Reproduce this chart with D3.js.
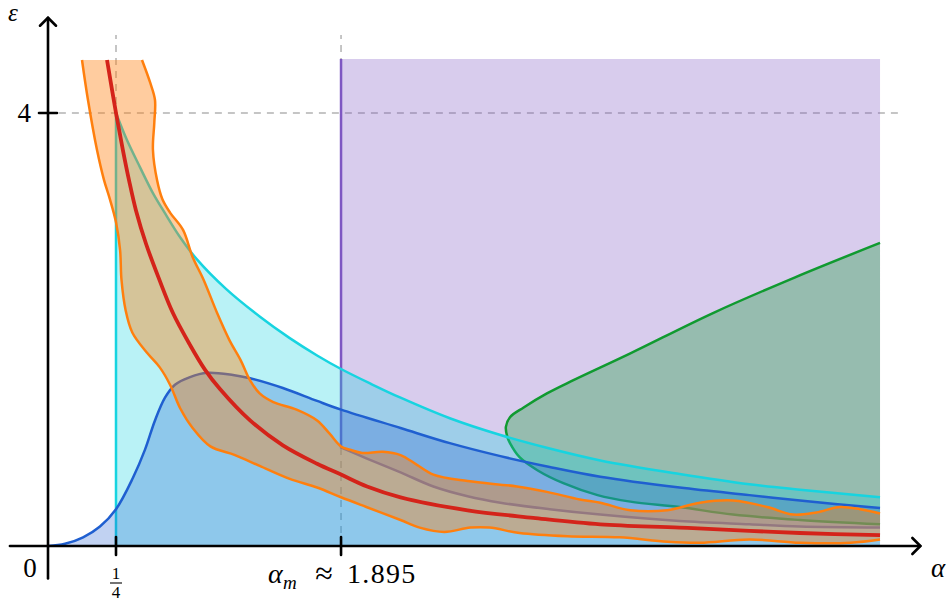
<!DOCTYPE html>
<html>
  <head>
    <meta charset="utf-8">
    <title>Phase regions in alpha / epsilon</title>
    <script src="https://cdn.jsdelivr.net/npm/d3@7"></script>
    <style>
      body { margin: 0; background: #fff; }
    </style>
  </head>

  <body>
    <svg id="chart" width="947" height="601"></svg>

    <script>
      // curves, as [alpha, epsilon]
      const cyanCurve = [
        [0.25, 4.00], [0.33, 3.75], [0.425, 3.50], [0.52, 3.26], [0.61, 3.07],
        [0.72, 2.85], [0.84, 2.65], [1.05, 2.38], [1.30, 2.12], [1.52, 1.92],
        [1.72, 1.76], [1.895, 1.635], [2.11, 1.50], [2.33, 1.37], [2.69, 1.18],
        [3.06, 1.025], [3.42, 0.90], [3.79, 0.79], [4.37, 0.665], [4.88, 0.57],
        [5.25, 0.52], [5.835, 0.45]
      ];
      const blueCurve = [
        [0, 0], [0.0625, 0.02], [0.129, 0.08], [0.191, 0.18], [0.25, 0.34],
        [0.374, 0.63], [0.462, 0.89], [0.535, 1.16], [0.608, 1.37], [0.681, 1.49],
        [0.791, 1.56], [0.915, 1.60], [1.105, 1.58], [1.23, 1.55], [1.47, 1.46],
        [1.72, 1.34], [1.895, 1.26], [2.33, 1.09], [2.69, 0.95], [3.06, 0.83],
        [3.42, 0.73], [3.79, 0.64], [4.37, 0.54], [4.88, 0.47], [5.25, 0.42],
        [5.835, 0.35]
      ];
      const purpleLower = [
        [1.895, 0.91], [2.08, 0.81], [2.33, 0.68], [2.57, 0.55], [2.82, 0.46],
        [3.06, 0.40], [3.42, 0.34], [3.79, 0.29], [4.37, 0.23], [4.88, 0.20],
        [5.25, 0.18], [5.835, 0.17]
      ];
      const greenEdge = [
        [5.835, 2.80], [5.21, 2.48], [4.61, 2.15], [4.01, 1.78], [3.59, 1.53],
        [3.40, 1.41], [3.23, 1.28], [3.13, 1.19], [3.10, 1.10], [3.11, 1.01],
        [3.13, 0.95], [3.20, 0.82], [3.33, 0.70], [3.52, 0.58], [3.77, 0.47],
        [4.01, 0.41], [4.37, 0.36], [4.76, 0.29], [5.25, 0.24], [5.835, 0.20]
      ];
      const orangeLeft = [
        [0.125, 4.49], [0.147, 4.12], [0.18, 3.66], [0.206, 3.38], [0.228, 3.20],
        [0.25, 2.99], [0.28, 2.73], [0.29, 2.46], [0.32, 2.18], [0.37, 1.97],
        [0.48, 1.78], [0.57, 1.65], [0.645, 1.49], [0.72, 1.27], [0.81, 1.09],
        [0.94, 0.92], [1.12, 0.84], [1.30, 0.74], [1.52, 0.62], [1.72, 0.54],
        [1.895, 0.45], [2.08, 0.36], [2.33, 0.24], [2.47, 0.17], [2.65, 0.13],
        [2.84, 0.17], [2.98, 0.17], [3.20, 0.12], [3.55, 0.09], [3.93, 0.08],
        [4.28, 0.04], [4.52, 0.03], [4.88, 0.06], [5.25, 0.03], [5.62, 0.03],
        [5.835, 0.06]
      ];
      const orangeRight = [
        [0.44, 4.49], [0.50, 4.28], [0.535, 4.12], [0.53, 3.91], [0.52, 3.66],
        [0.55, 3.38], [0.59, 3.20], [0.645, 3.08], [0.74, 2.92], [0.81, 2.67],
        [0.89, 2.46], [0.99, 2.15], [1.08, 1.90], [1.16, 1.72], [1.23, 1.53],
        [1.30, 1.41], [1.40, 1.33], [1.57, 1.26], [1.72, 1.16], [1.81, 1.04],
        [1.895, 0.92], [1.96, 0.89], [2.05, 0.86], [2.20, 0.87], [2.33, 0.84],
        [2.45, 0.75], [2.57, 0.66], [2.82, 0.60], [3.18, 0.55], [3.40, 0.50],
        [3.64, 0.43], [3.79, 0.40], [4.01, 0.33], [4.28, 0.33], [4.52, 0.40],
        [4.76, 0.42], [5.01, 0.36], [5.20, 0.29], [5.37, 0.31], [5.54, 0.36],
        [5.69, 0.34], [5.835, 0.30]
      ];
      const redCurve = [
        [0.217, 4.49], [0.25, 4.00], [0.30, 3.66], [0.345, 3.38], [0.396, 3.10],
        [0.47, 2.79], [0.564, 2.47], [0.667, 2.15], [0.79, 1.86], [0.90, 1.63],
        [1.01, 1.45], [1.23, 1.16], [1.47, 0.93], [1.72, 0.76], [1.895, 0.66],
        [2.085, 0.55], [2.33, 0.45], [2.82, 0.33], [3.30, 0.26], [3.79, 0.20],
        [4.37, 0.17], [4.88, 0.14], [5.25, 0.12], [5.835, 0.10]
      ];

      // ticks and limits
      const xTicks = [0.25, 1.895];
      const yTicks = [4];
      const alphaMax = 5.835;
      const epsTop = 4.5;

      // scales (the x axis is schematic: tighter to the left of 1/4)
      const x = d3.scaleLinear().domain([0, 0.25, 6]).range([48, 116, 902.6]);
      const y = d3.scaleLinear().domain([0, 4]).range([546, 113]);

      const serif = "'Liberation Serif', 'DejaVu Serif', serif";
      const svg = d3.select("#chart");
      const curve = d3.line()
        .x(function(d) { return x(d[0]); })
        .y(function(d) { return y(d[1]); })
        .curve(d3.curveCatmullRom.alpha(0.5));
      const straight = d3.line()
        .x(function(d) { return x(d[0]); })
        .y(function(d) { return y(d[1]); });

      function pt(a, e) { return x(a) + "," + y(e); }

      // dashed guides
      const guides = svg.append("g")
        .attr("stroke", "#b3b3b3")
        .attr("stroke-width", 1.5)
        .attr("stroke-dasharray", "7,6")
        .attr("fill", "none");
      xTicks.forEach(function(t) {
        guides.append("path").attr("d", straight([[t, 0], [t, 4.72]]));
      });
      guides.append("path").attr("d", straight([[0.04, 4], [6, 4]]));

      // purple region
      svg.append("path")
        .attr("d", curve(purpleLower) + "L" + pt(alphaMax, epsTop) + "L" + pt(1.895, epsTop) + "Z")
        .attr("fill", "#7e57c2").attr("fill-opacity", 0.3);
      svg.append("path")
        .attr("d", "M" + pt(1.895, epsTop) + "L" + curve(purpleLower).slice(1))
        .attr("fill", "none").attr("stroke", "#7e57c2").attr("stroke-width", 2.5);

      // green region
      svg.append("path")
        .attr("d", curve(greenEdge) + "Z")
        .attr("fill", "#109a30").attr("fill-opacity", 0.33);
      svg.append("path")
        .attr("d", curve(greenEdge))
        .attr("fill", "none").attr("stroke", "#109a30").attr("stroke-width", 2.5);

      // cyan region
      const cyanStroke = "M" + pt(0.25, 0) + "L" + curve(cyanCurve).slice(1);
      svg.append("path")
        .attr("d", cyanStroke + "L" + pt(alphaMax, 0) + "Z")
        .attr("fill", "#17d4e0").attr("fill-opacity", 0.3);
      svg.append("path")
        .attr("d", cyanStroke)
        .attr("fill", "none").attr("stroke", "#17d4e0").attr("stroke-width", 2.5);

      // blue region
      svg.append("path")
        .attr("d", curve(blueCurve) + "L" + pt(alphaMax, 0) + "Z")
        .attr("fill", "#1f5fd0").attr("fill-opacity", 0.28);
      svg.append("path")
        .attr("d", curve(blueCurve))
        .attr("fill", "none").attr("stroke", "#1f5fd0").attr("stroke-width", 2.5);

      // orange band
      svg.append("path")
        .attr("d", curve(orangeLeft) + "L" + curve(orangeRight.slice().reverse()).slice(1) + "Z")
        .attr("fill", "#ff7f0e").attr("fill-opacity", 0.4);
      [orangeLeft, orangeRight].forEach(function(c) {
        svg.append("path")
          .attr("d", curve(c))
          .attr("fill", "none").attr("stroke", "#ff7f0e").attr("stroke-width", 2.5);
      });

      // red curve
      svg.append("path")
        .attr("d", curve(redCurve))
        .attr("fill", "none").attr("stroke", "#d4231a").attr("stroke-width", 3.8);

      // axes
      const axes = svg.append("g")
        .attr("stroke", "#000")
        .attr("stroke-width", 2.6)
        .attr("fill", "none")
        .attr("stroke-linecap", "round")
        .attr("stroke-linejoin", "round");
      const xEnd = x(6.13), yEnd = y(4.88);
      axes.append("path").attr("d", "M" + x(-0.14) + "," + y(0) + "H" + xEnd);
      axes.append("path").attr("d", "M" + x(0) + "," + y(-0.3) + "V" + yEnd);
      axes.append("path").attr("d", "M" + (xEnd - 8) + "," + (y(0) - 8) + "L" + xEnd + "," + y(0) + "L" + (xEnd - 8) + "," + (y(0) + 8));
      axes.append("path").attr("d", "M" + (x(0) - 8) + "," + (yEnd + 8) + "L" + x(0) + "," + yEnd + "L" + (x(0) + 8) + "," + (yEnd + 8));
      xTicks.forEach(function(t) {
        axes.append("path").attr("d", "M" + x(t) + "," + (y(0) - 9) + "V" + (y(0) + 9));
      });
      yTicks.forEach(function(t) {
        axes.append("path").attr("d", "M" + (x(0) - 9) + "," + y(t) + "H" + (x(0) + 9));
      });

      // labels
      function label(px, py, size, str, opts) {
        opts = opts || {};
        return svg.append("text")
          .attr("x", px).attr("y", py)
          .style("font-family", serif)
          .attr("font-size", size)
          .attr("font-style", opts.italic ? "italic" : "normal")
          .attr("text-anchor", opts.anchor || "start")
          .attr("fill", "#000")
          .text(str);
      }
      label(8, 21, 25, "ε", { italic: true });
      label(931, 577, 27, "α", { italic: true });
      label(30, 577, 27, "0", { anchor: "middle" });
      yTicks.forEach(function(t) {
        label(31, y(t) + 9, 27, t, { anchor: "end" });
      });

      // 1/4 as a stacked fraction
      const fx = x(xTicks[0]);
      label(fx, 579, 17, "1", { anchor: "middle" });
      svg.append("line").attr("x1", fx - 6).attr("x2", fx + 6).attr("y1", 583).attr("y2", 583)
        .attr("stroke", "#000").attr("stroke-width", 1.1);
      label(fx, 598, 17, "4", { anchor: "middle" });

      // alpha_m label, pieces spread out like the typeset original
      const ax = x(xTicks[1]);
      label(ax - 73, 583, 28, "α", { italic: true });
      label(ax - 58, 589, 19, "m", { italic: true });
      label(ax - 17, 584, 32, "≈", { anchor: "middle" });
      label(ax + 6, 583, 28, xTicks[1]).style("letter-spacing", "1.3px");
    </script>
  </body>
</html>
